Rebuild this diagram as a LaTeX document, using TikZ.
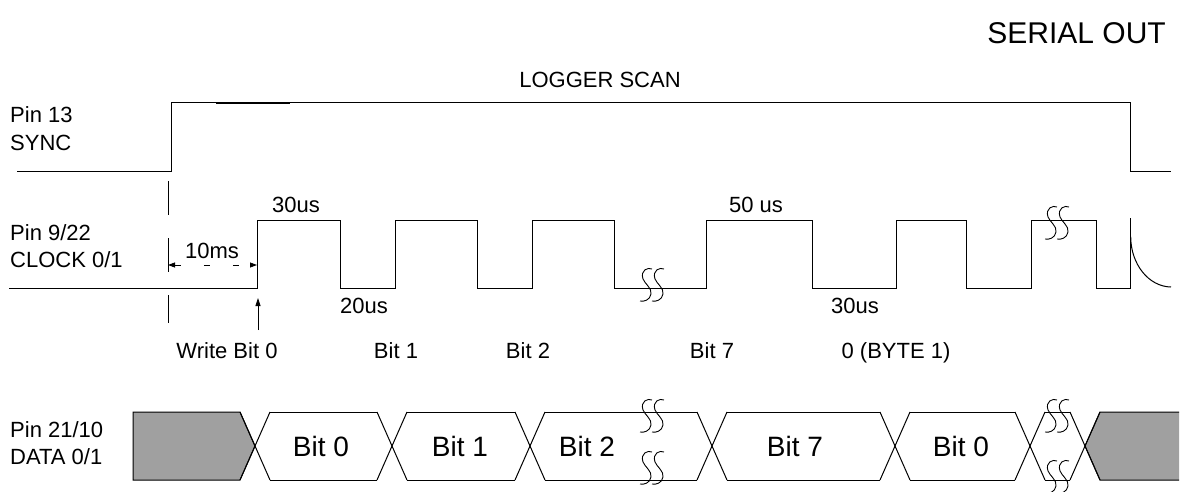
\documentclass[tikz,border=0pt]{standalone}
\usepackage{fontspec}
\setmainfont{Liberation Sans}
\usetikzlibrary{arrows.meta}
\definecolor{boxgray}{HTML}{A0A0A0}
\begin{document}
\begin{tikzpicture}[x=1pt,y=-1pt,
  sig/.style={line width=1pt, line join=miter},
  lbl/.style={inner sep=0pt, font=\fontsize{22}{26}\selectfont},
  big/.style={inner sep=0pt, font=\fontsize{28}{32}\selectfont},
  title/.style={inner sep=0pt, font=\fontsize{30}{34}\selectfont},
  brk/.pic={\foreach \dx in {-6,6}{\draw[line width=0.9pt,shift={(\dx,0)}] (5,-16) .. controls (1,-18) and (-7,-15) .. (-4,-6) .. controls (-2,-1) and (5,3) .. (4,9) .. controls (3,15) and (-3,17) .. (-7,16);}}]
\useasboundingbox (0,0) rectangle (1183,492);

% titles
\node[title, anchor=base east] (serial) at (1166,44) {SERIAL OUT};
\node[lbl, anchor=base] (scan) at (600,88) {LOGGER SCAN};

% left labels
\node[lbl, anchor=base west] (p13) at (10,123) {Pin 13};
\node[lbl, anchor=base west] (sync) at (10,150) {SYNC};
\node[lbl, anchor=base west] (p9) at (10,240) {Pin 9/22};
\node[lbl, anchor=base west] (clk) at (10,267) {CLOCK 0/1};
\node[lbl, anchor=base west] (p21) at (10,437) {Pin 21/10};
\node[lbl, anchor=base west] (dat) at (10,464) {DATA 0/1};

% SYNC signal
\draw[sig] (17,171) -- (171,171) -- (171,103) -- (1130,103) -- (1130,171) -- (1171,171);
\draw[line width=1.25pt] (216,103) -- (290,103);

% CLOCK signal
\draw[sig] (9,288) -- (257,288) -- (257,220) -- (340,220) -- (340,288) -- (395,288) -- (395,220)
  -- (477,220) -- (477,288) -- (532,288) -- (532,220) -- (614,220) -- (614,288) -- (706,288)
  -- (706,220) -- (812,220) -- (812,288) -- (896,288) -- (896,220) -- (966,220) -- (966,288)
  -- (1031,288) -- (1031,220) -- (1096,220) -- (1096,288) -- (1130,288) -- (1130,218);
\draw[sig] (1130.7,236.7) .. controls (1130.7,264) and (1148.6,286.7) .. (1171,287);
\pic at (653,285) {brk};
\pic at (1058,223) {brk};

% sync marker and 10ms
\draw[line width=1pt, dash pattern=on 34pt off 23pt] (168,181) -- (168,323);
\coordinate (m0) at (168,265);
\coordinate (m1) at (257,265);
\draw[line width=0.8pt, dash pattern=on 6pt off 23pt, {Triangle[length=7pt,width=5pt]}-{Triangle[length=7pt,width=5pt]}] (m0) -- (m1);
\node[lbl, anchor=base] (t10) at (212,258) {10ms};

% write arrow
\coordinate (w0) at (258,330);
\coordinate (w1) at (258,298);
\draw[line width=0.8pt, -{Triangle[length=8pt,width=5pt]}] (w0) -- (w1);

% timing labels
\node[lbl, anchor=base] (a30) at (296,212) {30us};
\node[lbl, anchor=base] (a20) at (364,313) {20us};
\node[lbl, anchor=base] (a50) at (756,212) {50 us};
\node[lbl, anchor=base] (b30) at (855,313) {30us};

\node[lbl, anchor=base] (wb0) at (227,358) {Write Bit 0};
\node[lbl, anchor=base] (wb1) at (396,358) {Bit 1};
\node[lbl, anchor=base] (wb2) at (528,358) {Bit 2};
\node[lbl, anchor=base] (wb7) at (712,358) {Bit 7};
\node[lbl, anchor=base] (wby) at (896,358) {0 (BYTE 1)};

% DATA row
\filldraw[fill=boxgray, line width=1pt, line join=miter] (133,412) -- (240,412) -- (255,446) -- (240,480) -- (133,480) -- cycle;
\fill[boxgray] (1100,412) -- (1179,412) -- (1179,480) -- (1100,480) -- (1085,446) -- cycle;
\draw[sig] (1179,412) -- (1100,412) -- (1085,446) -- (1100,480) -- (1179,480);
\foreach \c in {255,392,530,712,895,1030,1085}{
  \draw[sig] (\c-15,412) -- (\c+15,480);
  \draw[sig] (\c-15,480) -- (\c+15,412);
}
\foreach \a/\b in {270/377,407/515,545/697,727/880,910/1015,1045/1070}{
  \draw[sig] (\a,412) -- (\b,412);
  \draw[sig] (\a,480) -- (\b,480);
}
\pic at (653,416) {brk};
\pic at (653,468) {brk};
\pic at (1058,416) {brk};
\pic at (1058,477) {brk};

\node[big, anchor=base] (d0) at (321,456) {Bit 0};
\node[big, anchor=base] (d1) at (460,456) {Bit 1};
\node[big, anchor=base] (d2) at (587,456) {Bit 2};
\node[big, anchor=base] (d7) at (795,456) {Bit 7};
\node[big, anchor=base] (d8) at (961,456) {Bit 0};
\end{tikzpicture}
\end{document}
